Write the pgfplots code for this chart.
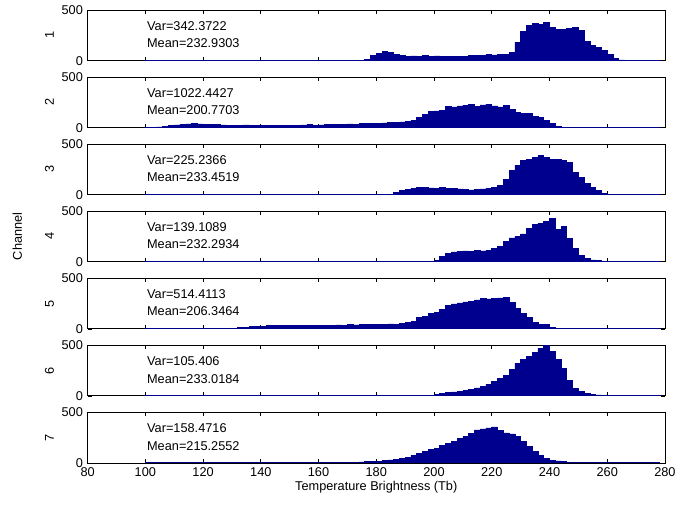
\documentclass[border=0pt]{standalone}
\usepackage{fontspec}
\setmainfont{Liberation Sans}
\usepackage{pgfplots}
\pgfplotsset{compat=1.18}
\usepgfplotslibrary{groupplots}
\definecolor{hist}{HTML}{00008F}

\pgfplotsset{
  chan/.style={
    scale only axis, width=435pt, height=38.25pt,
    xmin=80, xmax=280, ymin=0, ymax=500,
    xtick={80,100,...,280}, ytick={0,500},
    tick align=inside, major tick length=3pt,
    axis line style={line width=0.6pt}, tick style={black, line width=0.5pt},
    font=\fontsize{9.6}{11}\selectfont,
    /pgf/number format/assume math mode=true,
    every axis y label/.style={at={(axis description cs:-0.066,0.5)}, rotate=90, anchor=center},
  },
  hbar/.style={const plot, fill=hist, draw=hist, line width=0.5pt, mark=none},
}

\begin{document}
\begin{tikzpicture}
\begin{groupplot}[group style={group size=1 by 7, vertical sep=12.25pt,
    xticklabels at=edge bottom, xlabels at=edge bottom}, chan]

\nextgroupplot[ylabel={1}]
\addplot[hbar] coordinates {
(100,1) (174,1) (176,10) (178,50) (180,75) (182,88) (184,80) (186,65) (188,52) (190,45)
(192,48) (194,45) (196,50) (198,42) (200,48) (202,40) (204,42) (206,45) (208,40) (210,45)
(212,50) (214,55) (216,52) (218,60) (220,58) (222,65) (224,62) (226,80) (228,180) (230,290)
(232,350) (234,365) (236,355) (238,375) (240,330) (242,310) (244,305) (246,315) (248,330) (250,300)
(252,190) (254,150) (256,135) (258,105) (260,60) (262,25) (264,8) (266,3) (268,1) (276,1) (278,0)
} \closedcycle;
\node[anchor=west] at (axis cs:99,345) {Var=342.3722};
\node[anchor=west] at (axis cs:99,170) {Mean=232.9303};

\nextgroupplot[ylabel={2}]
\addplot[hbar] coordinates {
(100,3) (102,5) (104,8) (106,12) (108,20) (110,28) (112,35) (114,38) (116,40) (118,38)
(120,35) (122,32) (124,30) (126,28) (128,27) (130,26) (132,25) (134,28) (136,24) (138,25)
(140,26) (142,24) (144,25) (146,26) (148,24) (150,27) (152,25) (154,28) (156,30) (158,26)
(160,28) (162,30) (164,32) (166,30) (168,35) (170,38) (172,36) (174,40) (176,42) (178,40)
(180,45) (182,48) (184,50) (186,52) (188,58) (190,65) (192,75) (194,100) (196,135) (198,160)
(200,165) (202,170) (204,210) (206,205) (208,215) (210,222) (212,230) (214,210) (216,225) (218,232)
(220,215) (222,205) (224,220) (226,180) (228,150) (230,145) (232,138) (234,110) (236,100) (238,72)
(240,40) (242,15) (244,4) (246,2) (274,2) (276,1) (278,0)
} \closedcycle;
\node[anchor=west] at (axis cs:99,345) {Var=1022.4427};
\node[anchor=west] at (axis cs:99,170) {Mean=200.7703};

\nextgroupplot[ylabel={3}]
\addplot[hbar] coordinates {
(100,1) (184,1) (186,20) (188,40) (190,55) (192,65) (194,72) (196,70) (198,68) (200,65)
(202,70) (204,62) (206,66) (208,58) (210,50) (212,48) (214,52) (216,58) (218,65) (220,75)
(222,90) (224,150) (226,240) (228,290) (230,335) (232,350) (234,365) (236,385) (238,370) (240,350)
(242,352) (244,340) (246,320) (248,220) (250,170) (252,115) (254,70) (256,40) (258,15) (260,4)
(262,1) (276,1) (278,0)
} \closedcycle;
\node[anchor=west] at (axis cs:99,345) {Var=225.2366};
\node[anchor=west] at (axis cs:99,170) {Mean=233.4519};

\nextgroupplot[ylabel={4}]
\addplot[hbar] coordinates {
(100,1) (196,1) (198,5) (200,15) (202,50) (204,80) (206,98) (208,105) (210,108) (212,105)
(214,110) (216,108) (218,115) (220,135) (222,155) (224,200) (226,235) (228,250) (230,275) (232,330)
(234,365) (236,380) (238,400) (240,425) (242,320) (244,345) (246,230) (248,130) (250,65) (252,30)
(254,18) (256,10) (258,4) (260,1) (276,1) (278,0)
} \closedcycle;
\node[anchor=west] at (axis cs:99,345) {Var=139.1089};
\node[anchor=west] at (axis cs:99,170) {Mean=232.2934};

\nextgroupplot[ylabel={5}]
\addplot[hbar] coordinates {
(100,2) (120,3) (126,4) (130,5) (132,10) (134,15) (136,20) (138,25) (140,28) (142,30)
(144,32) (146,30) (148,33) (150,35) (152,32) (154,34) (156,30) (158,36) (160,33) (162,35)
(164,37) (166,38) (168,34) (170,40) (172,38) (174,42) (176,40) (178,43) (180,45) (182,42)
(184,48) (186,45) (188,52) (190,60) (192,72) (194,110) (196,125) (198,150) (200,160) (202,195)
(204,230) (206,245) (208,255) (210,265) (212,272) (214,285) (216,300) (218,295) (220,300) (222,305)
(224,310) (226,260) (228,200) (230,150) (232,115) (234,65) (236,45) (238,42) (240,15) (242,5)
(244,1) (276,1) (278,0)
} \closedcycle;
\node[anchor=west] at (axis cs:99,345) {Var=514.4113};
\node[anchor=west] at (axis cs:99,170) {Mean=206.3464};

\nextgroupplot[ylabel={6}]
\addplot[hbar] coordinates {
(100,1) (196,1) (198,8) (200,16) (202,26) (204,32) (206,39) (208,45) (210,55) (212,65)
(214,78) (216,95) (218,115) (220,140) (222,170) (224,200) (226,260) (228,320) (230,355) (232,390)
(234,430) (236,470) (238,500) (240,440) (242,360) (244,270) (246,150) (248,75) (250,45) (252,28)
(254,18) (256,10) (258,5) (260,2) (262,1) (276,1) (278,0)
} \closedcycle;
\node[anchor=west] at (axis cs:99,345) {Var=105.406};
\node[anchor=west] at (axis cs:99,170) {Mean=233.0184};

\nextgroupplot[ylabel={7}, xlabel={Temperature Brightness (Tb)}, xlabel style={yshift=3pt}]
\addplot[hbar] coordinates {
(100,1) (168,1) (170,4) (172,7) (174,10) (176,12) (178,15) (180,18) (182,25) (184,30)
(186,38) (188,48) (190,58) (192,75) (194,95) (196,115) (198,130) (200,145) (202,175) (204,195)
(206,210) (208,240) (210,265) (212,290) (214,325) (216,335) (218,345) (220,355) (222,320) (224,295)
(226,285) (228,265) (230,215) (232,160) (234,110) (236,70) (238,45) (240,28) (242,20) (244,12)
(246,6) (248,3) (250,1) (276,1) (278,0)
} \closedcycle;
\node[anchor=west] at (axis cs:99,345) {Var=158.4716};
\node[anchor=west] at (axis cs:99,170) {Mean=215.2552};
\end{groupplot}
\node[rotate=90, font=\fontsize{9.6}{11}\selectfont] at ([xshift=-53pt]group c1r4.west) {Channel};
\path ([xshift=-66pt, yshift=7.5pt]group c1r1.north west) rectangle ([xshift=9pt, yshift=-32.25pt]group c1r7.south east);
\end{tikzpicture}
\end{document}
